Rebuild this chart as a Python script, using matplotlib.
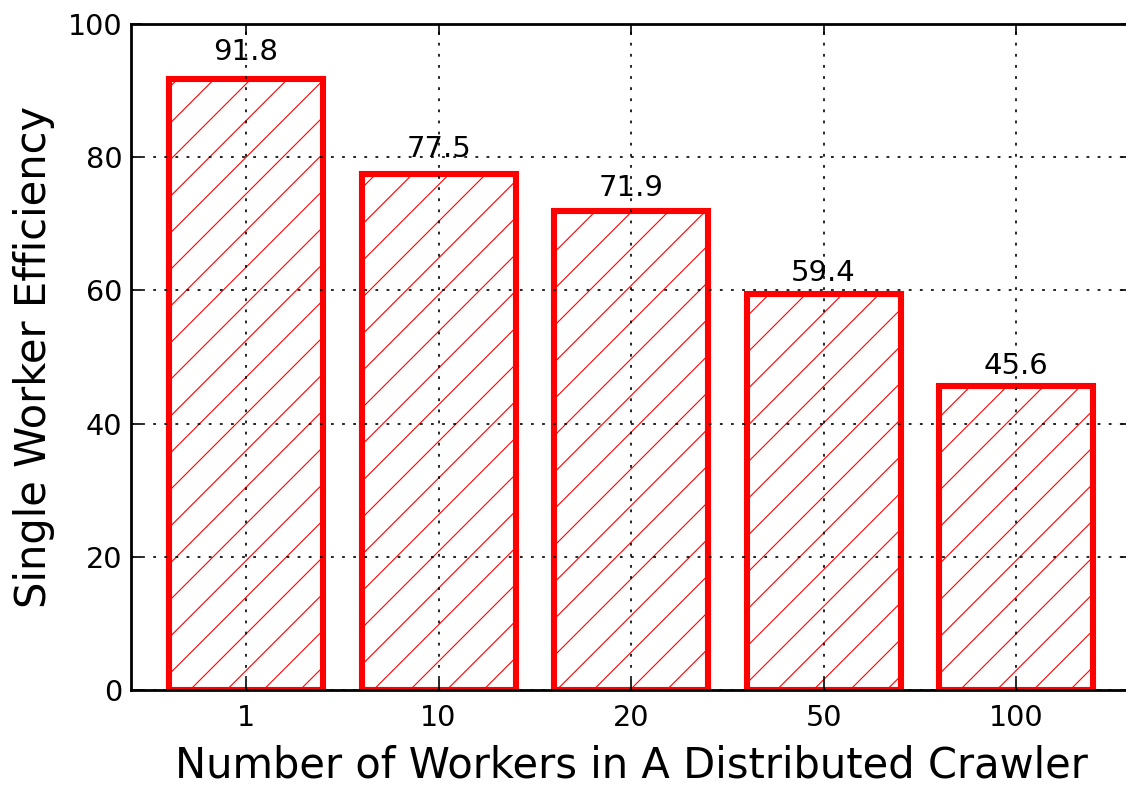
import matplotlib
matplotlib.use('Agg')
import matplotlib.pyplot as plt
import numpy as np

workers = ['1', '10', '20', '50', '100']
efficiency = [91.8, 77.5, 71.9, 59.4, 45.6]

DPI = 220
k = 200. / DPI  # tailles calibrées à 200 dpi

plt.rcParams['hatch.linewidth'] = 0.4 * k
plt.rcParams['lines.scale_dashes'] = False

fig = plt.figure(figsize=(1126.01 / DPI, 785.01 / DPI), dpi=DPI)
ax = fig.add_axes([0.1159, 0.1206, 0.889, 0.849])

x = np.arange(len(workers))
bars = ax.bar(x, efficiency, width=0.8, color='white', edgecolor='red',
              linewidth=2.2 * k, hatch='//')

# valeur au-dessus de chaque barre
for rect, v in zip(bars, efficiency):
    ax.text(rect.get_x() + rect.get_width() / 2., 1.02 * v, '%.1f' % v,
            ha='center', va='bottom', fontsize=10.5 * k)

ax.set_xlim(-0.6, 4.6)
ax.set_ylim(0, 100)
ax.set_xticks(x)
ax.set_xticklabels(workers)
ax.set_yticks([0, 20, 40, 60, 80, 100])
ax.set_axisbelow(False)
ax.grid(True, linestyle=(0, (1 * k, 3 * k)), color='black', linewidth=0.6 * k)
ax.tick_params(direction='in', top=True, right=True, length=4 * k,
               width=0.6 * k, labelsize=10.3 * k)
ax.tick_params(axis='x', pad=5 * k)
ax.tick_params(axis='y', pad=3 * k)
for s in ax.spines.values():
    s.set_linewidth(1.0 * k)

ax.set_xlabel('Number of Workers in A Distributed Crawler', fontsize=15 * k)
ax.set_ylabel('Single Worker Efficiency', fontsize=15 * k)

fig.savefig('out.png', dpi=DPI)
